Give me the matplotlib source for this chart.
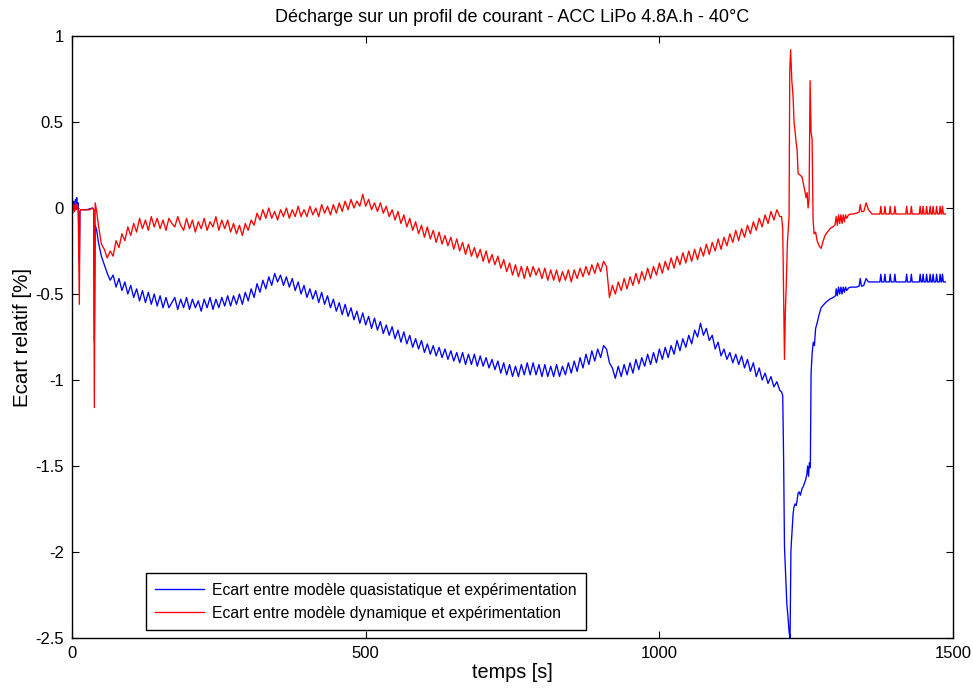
import numpy as np
import matplotlib
matplotlib.use("Agg")
import matplotlib.pyplot as plt
from matplotlib.ticker import FuncFormatter

plt.rcParams["font.family"] = ["Liberation Sans", "DejaVu Sans"]
plt.rcParams["axes.unicode_minus"] = False

# ---- start of the test (0 - 42 s), shared time base ----
t_start = [0, 1.5, 3, 4.5, 6, 7, 8, 9, 10.5, 11.5, 12.5, 13.5, 15, 20, 25, 30, 35, 37, 38, 39.5, 42]
red_start = [0.00, -0.03, 0.02, -0.02, 0.03, -0.01, 0.01, 0.02, -0.01, -0.30, -0.56, -0.02, -0.01,
             -0.01, -0.01, -0.01, 0.00, -0.01, -1.16, 0.03, -0.02]
blue_start = [0.02, -0.01, 0.04, 0.00, 0.05, 0.02, 0.06, 0.01, 0.03, -0.10, -0.31, -0.02, -0.01,
              -0.01, -0.01, -0.005, 0.00, -0.01, -0.78, -0.10, -0.13]

# ---- main part of the profile, sampled every 5 s (45 - 1205 s) ----
t_grid = np.arange(45, 1206, 5)
red_grid = [
    -0.10, -0.21, -0.24, -0.29, -0.25, -0.28, -0.19, -0.23, -0.15, -0.19,
    -0.11, -0.16, -0.09, -0.14, -0.06, -0.12, -0.07, -0.13, -0.05, -0.11,
    -0.06, -0.12, -0.07, -0.13, -0.06, -0.09, -0.11, -0.05, -0.10, -0.13,
    -0.06, -0.12, -0.07, -0.14, -0.08, -0.12, -0.06, -0.13, -0.08, -0.11,
    -0.05, -0.13, -0.07, -0.12, -0.07, -0.14, -0.09, -0.15, -0.10, -0.16,
    -0.09, -0.13, -0.07, -0.10, -0.03, -0.07, -0.01, -0.06, 0.00, -0.06,
    -0.02, -0.07, -0.01, -0.05, 0.00, -0.06, -0.01, -0.05, 0.01, -0.05,
    -0.01, -0.05, 0.01, -0.04, 0.00, -0.05, 0.02, -0.03, 0.01, -0.04,
    0.02, -0.03, 0.03, -0.02, 0.04, -0.01, 0.05, 0.00, 0.04, 0.01,
    0.08, 0.01, 0.05, -0.01, 0.03, -0.02, 0.03, -0.03, 0.01, -0.05,
    -0.01, -0.07, -0.02, -0.09, -0.04, -0.11, -0.06, -0.13, -0.08, -0.15,
    -0.10, -0.17, -0.11, -0.18, -0.13, -0.20, -0.14, -0.21, -0.16, -0.22,
    -0.17, -0.24, -0.18, -0.25, -0.20, -0.27, -0.21, -0.28, -0.23, -0.29,
    -0.24, -0.31, -0.25, -0.32, -0.27, -0.33, -0.28, -0.35, -0.30, -0.37,
    -0.32, -0.39, -0.33, -0.40, -0.34, -0.41, -0.34, -0.40, -0.34, -0.39,
    -0.35, -0.41, -0.35, -0.42, -0.36, -0.42, -0.36, -0.43, -0.37, -0.42,
    -0.36, -0.43, -0.36, -0.41, -0.35, -0.40, -0.34, -0.39, -0.33, -0.38,
    -0.32, -0.37, -0.31, -0.34, -0.52, -0.45, -0.50, -0.43, -0.48, -0.41,
    -0.47, -0.40, -0.45, -0.38, -0.44, -0.37, -0.42, -0.35, -0.41, -0.34,
    -0.39, -0.32, -0.38, -0.31, -0.36, -0.29, -0.35, -0.28, -0.33, -0.26,
    -0.32, -0.25, -0.31, -0.24, -0.30, -0.23, -0.28, -0.21, -0.27, -0.20,
    -0.25, -0.18, -0.24, -0.17, -0.22, -0.15, -0.20, -0.13, -0.19, -0.12,
    -0.17, -0.10, -0.15, -0.08, -0.13, -0.06, -0.11, -0.04, -0.09, -0.02,
    -0.07, -0.01, -0.05,
]
blue_grid = [
    -0.20, -0.28, -0.33, -0.38, -0.42, -0.39, -0.46, -0.41, -0.48, -0.43,
    -0.50, -0.45, -0.52, -0.47, -0.54, -0.48, -0.55, -0.49, -0.56, -0.50,
    -0.57, -0.51, -0.58, -0.52, -0.58, -0.55, -0.52, -0.59, -0.53, -0.58,
    -0.52, -0.59, -0.53, -0.58, -0.54, -0.60, -0.53, -0.58, -0.52, -0.59,
    -0.53, -0.58, -0.52, -0.57, -0.51, -0.57, -0.51, -0.56, -0.50, -0.56,
    -0.49, -0.54, -0.47, -0.52, -0.44, -0.49, -0.42, -0.47, -0.40, -0.45,
    -0.38, -0.43, -0.39, -0.45, -0.40, -0.46, -0.41, -0.48, -0.43, -0.50,
    -0.45, -0.52, -0.47, -0.53, -0.48, -0.55, -0.49, -0.56, -0.51, -0.58,
    -0.53, -0.60, -0.55, -0.62, -0.56, -0.63, -0.58, -0.65, -0.60, -0.67,
    -0.61, -0.68, -0.63, -0.70, -0.64, -0.71, -0.66, -0.73, -0.68, -0.74,
    -0.69, -0.76, -0.71, -0.78, -0.72, -0.79, -0.74, -0.81, -0.76, -0.82,
    -0.77, -0.84, -0.79, -0.85, -0.80, -0.86, -0.81, -0.87, -0.82, -0.88,
    -0.83, -0.89, -0.84, -0.90, -0.84, -0.91, -0.85, -0.91, -0.85, -0.92,
    -0.86, -0.92, -0.87, -0.93, -0.88, -0.94, -0.89, -0.96, -0.90, -0.97,
    -0.91, -0.98, -0.92, -0.98, -0.91, -0.97, -0.90, -0.97, -0.90, -0.97,
    -0.91, -0.98, -0.91, -0.98, -0.92, -0.98, -0.91, -0.98, -0.92, -0.97,
    -0.90, -0.96, -0.89, -0.95, -0.87, -0.93, -0.85, -0.91, -0.83, -0.89,
    -0.82, -0.87, -0.80, -0.82, -0.90, -0.93, -0.99, -0.92, -0.98, -0.91,
    -0.97, -0.90, -0.96, -0.88, -0.94, -0.87, -0.92, -0.85, -0.91, -0.84,
    -0.90, -0.82, -0.88, -0.81, -0.87, -0.80, -0.85, -0.77, -0.83, -0.76,
    -0.81, -0.74, -0.79, -0.71, -0.75, -0.67, -0.74, -0.70, -0.77, -0.74,
    -0.82, -0.78, -0.86, -0.82, -0.88, -0.84, -0.90, -0.85, -0.91, -0.86,
    -0.93, -0.88, -0.95, -0.90, -0.98, -0.93, -1.00, -0.96, -1.02, -0.98,
    -1.04, -1.01, -1.06,
]

# ---- strong current step around 1210 - 1360 s ----
t_red_tail = [1208, 1210, 1211.5, 1213, 1214.5, 1216, 1218, 1220.8, 1222, 1223.5, 1225.5, 1227.6,
              1229.4, 1231, 1232.8, 1234.5, 1236.2, 1240, 1243, 1244.7, 1246.4, 1248, 1249.8, 1251.5,
              1253.2, 1254.9, 1256.6, 1258.3, 1260, 1261.7, 1263.4, 1266, 1268.5, 1271.9, 1275.3,
              1279, 1282, 1286, 1290.6, 1295, 1299, 1301, 1303, 1305, 1307, 1309, 1311, 1313, 1315,
              1317, 1319, 1322, 1326, 1330, 1335, 1340, 1342, 1344, 1348, 1352, 1356]
red_tail = [-0.05, -0.12, -0.50, -0.88, -0.60, -0.45, -0.20, -0.05, 0.80, 0.92, 0.74, 0.65,
            0.49, 0.45, 0.38, 0.34, 0.20, 0.19, 0.18, 0.15, 0.12, 0.09, 0.06, 0.09,
            0.00, 0.06, 0.74, 0.44, 0.40, -0.07, -0.15, -0.14, -0.19, -0.22, -0.235,
            -0.19, -0.16, -0.14, -0.12, -0.11, -0.10, -0.05, -0.10, -0.04, -0.09, -0.04, -0.09, -0.04, -0.08,
            -0.04, -0.06, -0.04, -0.035, -0.035, -0.03, -0.025, 0.02, -0.02, -0.02, 0.03, -0.01]

t_blue_tail = [1208, 1210, 1211.5, 1213, 1215, 1217, 1219, 1221, 1222.5, 1224, 1226, 1227.6,
               1229, 1231, 1233, 1234.5, 1236, 1238, 1240, 1243, 1245, 1247, 1249, 1251,
               1252.5, 1254, 1255.5, 1257, 1258.3, 1260, 1262, 1264, 1266, 1268.5, 1271.9, 1275.3,
               1279, 1283, 1290, 1296, 1300, 1301, 1303, 1305, 1307, 1309, 1311, 1313, 1315,
               1317, 1319, 1322, 1326, 1330, 1335, 1340, 1342, 1344, 1348, 1352, 1356]
blue_tail = [-1.07, -1.09, -1.45, -1.97, -2.14, -2.30, -2.38, -2.47, -2.50, -1.99, -1.87, -1.78,
             -1.74, -1.72, -1.73, -1.70, -1.66, -1.65, -1.67, -1.63, -1.62, -1.60, -1.58, -1.55,
             -1.50, -1.56, -1.48, -1.51, -0.96, -0.85, -0.78, -0.80, -0.70, -0.67, -0.62, -0.58,
             -0.565, -0.55, -0.53, -0.52, -0.51, -0.47, -0.51, -0.46, -0.50, -0.46, -0.50, -0.46, -0.49,
             -0.46, -0.48, -0.465, -0.46, -0.46, -0.46, -0.455, -0.41, -0.455, -0.45, -0.41, -0.43]

# ---- end of the test: rest with short pulses (1362 - 1487 s) ----
t_plateau = [1362, 1375.5, 1377, 1378.5, 1382.5, 1384, 1385.5, 1391.5, 1393, 1394.5,
             1399.5, 1401, 1402.5, 1419.5, 1421, 1422.5, 1427.5, 1429, 1430.5, 1442.5,
             1444, 1445.5, 1447.5, 1449, 1450.5, 1453.5, 1455, 1456.5, 1459.5, 1461,
             1462.5, 1464.5, 1466, 1467.5, 1470.5, 1472, 1473.5, 1476.5, 1478, 1479.5,
             1480.5, 1482, 1483.5, 1487]
red_plateau = [-0.035, -0.035, 0.01, -0.035, -0.035, 0.01, -0.035, -0.035, 0.01, -0.035,
               -0.035, 0.01, -0.035, -0.035, 0.01, -0.035, -0.035, 0.01, -0.035, -0.035,
               0.01, -0.035, -0.035, 0.01, -0.035, -0.035, 0.01, -0.035, -0.035, 0.01,
               -0.035, -0.035, 0.01, -0.035, -0.035, 0.01, -0.035, -0.035, 0.01, -0.035,
               -0.035, 0.01, -0.035, -0.035]
blue_plateau = [-0.43, -0.43, -0.385, -0.43, -0.43, -0.385, -0.43, -0.43, -0.385, -0.43,
                -0.43, -0.385, -0.43, -0.43, -0.385, -0.43, -0.43, -0.385, -0.43, -0.43,
                -0.385, -0.43, -0.43, -0.385, -0.43, -0.43, -0.385, -0.43, -0.43, -0.385,
                -0.43, -0.43, -0.385, -0.43, -0.43, -0.385, -0.43, -0.43, -0.385, -0.43,
                -0.43, -0.385, -0.43, -0.43]

x_ticks = [0, 500, 1000, 1500]
y_ticks = [-2.5, -2, -1.5, -1, -0.5, 0, 0.5, 1]

label_blue = "Ecart entre modèle quasistatique et expérimentation"
label_red = "Ecart entre modèle dynamique et expérimentation"

t_blue = np.concatenate([t_start, t_grid, t_blue_tail, t_plateau])
v_blue = np.concatenate([blue_start, blue_grid, blue_tail, blue_plateau])
t_red = np.concatenate([t_start, t_grid, t_red_tail, t_plateau])
v_red = np.concatenate([red_start, red_grid, red_tail, red_plateau])

fig = plt.figure(figsize=(9.73, 6.91), dpi=100)
ax = fig.add_axes([0.074, 0.0767, 0.9055, 0.8712])
ax.plot(t_blue, v_blue, color=(0, 0, 1), lw=0.95, label=label_blue)
ax.plot(t_red, v_red, color=(1, 0, 0), lw=0.95, label=label_red)

ax.set_xlim(0, 1500)
ax.set_ylim(-2.5, 1)
ax.set_xticks(x_ticks)
ax.set_yticks(y_ticks)
ax.xaxis.set_major_formatter(FuncFormatter(lambda v, p: f"{v:g}"))
ax.yaxis.set_major_formatter(FuncFormatter(lambda v, p: f"{v:g}"))
ax.tick_params(direction="in", top=True, right=True, length=5, width=0.8,
               labelsize=12, pad=6)
for s in ax.spines.values():
    s.set_linewidth(1.0)

ax.set_title("Décharge sur un profil de courant - ACC LiPo 4.8A.h - 40°C", fontsize=13, pad=10)
ax.set_xlabel("temps [s]", fontsize=14.3, labelpad=1)
ax.set_ylabel("Ecart relatif [%]", fontsize=14.8, labelpad=2)

leg = ax.legend(loc="lower left", bbox_to_anchor=(0.084, 0.013), borderaxespad=0,
                fontsize=11.3, frameon=True, fancybox=False, framealpha=1,
                edgecolor="black", handlelength=3.1, handletextpad=0.5,
                borderpad=0.6, labelspacing=0.5)
leg.get_frame().set_linewidth(1.0)

fig.savefig("out.png", dpi=100)
